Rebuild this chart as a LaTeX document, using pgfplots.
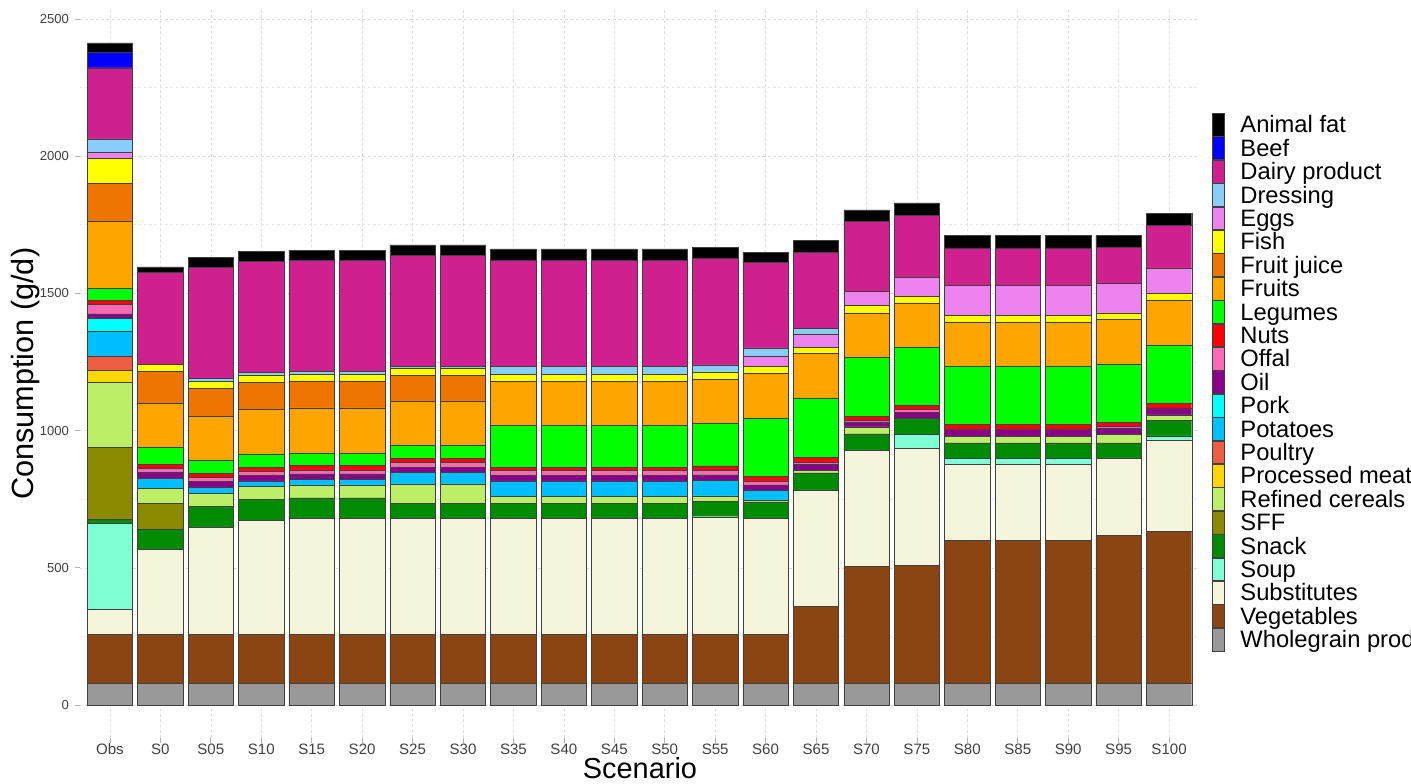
\documentclass[border=0pt]{standalone}
\usepackage{pgfplots}
\pgfplotsset{compat=1.18}
\usepackage{pgfplotstable}
\usepackage{fontspec}
\setmainfont{Liberation Sans}

\definecolor{cWG}{RGB}{153,153,153}
\definecolor{cVeg}{RGB}{139,69,19}
\definecolor{cSub}{RGB}{245,245,220}
\definecolor{cSoup}{RGB}{127,255,212}
\definecolor{cSnack}{RGB}{0,139,0}
\definecolor{cSFF}{RGB}{139,137,0}
\definecolor{cRef}{RGB}{188,238,104}
\definecolor{cProc}{RGB}{255,215,0}
\definecolor{cPoul}{RGB}{238,92,66}
\definecolor{cPot}{RGB}{0,191,255}
\definecolor{cPork}{RGB}{0,255,255}
\definecolor{cOil}{RGB}{139,0,139}
\definecolor{cOffal}{RGB}{255,105,180}
\definecolor{cNuts}{RGB}{255,0,0}
\definecolor{cLeg}{RGB}{0,255,0}
\definecolor{cFru}{RGB}{255,165,0}
\definecolor{cFJ}{RGB}{238,118,0}
\definecolor{cFish}{RGB}{255,255,0}
\definecolor{cEggs}{RGB}{238,130,238}
\definecolor{cDres}{RGB}{135,206,250}
\definecolor{cDairy}{RGB}{208,32,144}
\definecolor{cBeef}{RGB}{0,0,255}
\definecolor{cAF}{RGB}{0,0,0}

\pgfplotstableread{
x  WG Veg Sub Soup Snack SFF Ref Proc Poul Pot Pork Oil Offal Nuts Leg Fru FJ Fish Eggs Dres Dairy Beef AF
0  80 178  91 313 15 261 239 44 51 90 46 17 35 15  43 246 136 92  21 50 259 58 33
1  80 178 309   0 75  93  55  0  0 37  0 20 16 14  61 161 116 25   0  0 337  0 19
2  80 178 390   0 75   0  47  0  0 22  0 24 14 14  48 160 101 27   0  9 406  0 35
3  80 178 416   0 76   0  47  0  0 20  0 20 15 14  49 162  98 28   0  8 406  0 37
4  80 178 422   0 75   0  47  0  0 20  0 20 15 15  47 164  98 24   0 10 406  0 36
5  80 178 422   0 75   0  47  0  0 20  0 20 15 15  47 164  98 24   0 10 406  0 36
6  80 178 422   0 55   0  71  0  0 41  0 19 17 15  47 163  93 26   0  8 404  0 38
7  80 178 422   0 55   0  71  0  0 41  0 19 17 15  47 163  93 26   0  8 404  0 38
8  80 178 422   0 54   0  25  0  0 58  0 20 17 13 151 162   0 26   0 27 388  0 41
9  80 178 422   0 54   0  25  0  0 58  0 20 17 13 151 162   0 26   0 27 388  0 41
10 80 178 422   0 54   0  25  0  0 58  0 20 17 13 151 162   0 26   0 27 388  0 41
11 80 178 422   0 54   0  25  0  0 58  0 20 17 13 151 162   0 26   0 27 388  0 41
12 80 178 426   2 55   0  21  0  0 57  0 20 17 15 154 162   0 27   0 25 390  0 39
13 80 178 422   0 60   0   7  0  0 34  0 21 15 15 213 164   0 24  39 29 311  0 38
14 80 279 423   0 64   0   8  0  0  0  0 22 10 17 214 164   0 23  48 20 278  0 43
15 80 426 423   0 59   0  25  0  0  0  0 19  4 17 215 161   0 26  52  0 254  0 43
16 80 429 425  52 60   0   0  0  0  0  0 21  9 15 214 160   0 25  68  0 226  0 46
17 80 520 277  22 56   0  24  0  0  0  0 26  0 17 212 162   0 24 109  0 137  0 44
18 80 520 277  22 56   0  24  0  0  0  0 26  0 17 212 162   0 24 109  0 137  0 44
19 80 520 277  22 56   0  24  0  0  0  0 26  0 17 212 162   0 24 109  0 137  0 44
20 80 539 280   0 56   0  31  0  0  0  0 24  6 13 213 162   0 25 108  0 132  0 41
21 80 553 333  15 55   0  21  0  0  0  0 26  0 15 214 164   0 23  94  0 154  0 44
}\datatable

\pgfplotsset{
  barseg/.style={fill=#1, draw=black!75, line width=0.35pt,
    legend image code/.code={\draw[##1] (0pt,-8.6pt) rectangle (9pt,8.6pt); \path (21pt,0pt);}},
}

\begin{document}
\begin{tikzpicture}
\useasboundingbox (0,0) rectangle (1058.25pt,587.25pt);
\clip (0,0) rectangle (1058.25pt,587.25pt);
\begin{axis}[
  at={(59.775pt,33.675pt)}, anchor=south west,
  scale only axis, width=839.7pt, height=546.4pt,
  xmin=-0.6, xmax=21.6, ymin=-120.6, ymax=2534,
  ybar stacked, bar width=0.9,
  xtick={0,...,21},
  xticklabels={Obs,S0,S05,S10,S15,S20,S25,S30,S35,S40,S45,S50,S55,S60,S65,S70,S75,S80,S85,S90,S95,S100},
  ytick={0,500,1000,1500,2000,2500},
  yticklabels={0,500,1000,1500,2000,2500},
  minor ytick={250,750,1250,1750,2250},
  xmajorgrids, ymajorgrids, yminorgrids,
  major grid style={gray!28, dash pattern=on 2pt off 2pt, line width=0.4pt},
  minor grid style={gray!20, dash pattern=on 2pt off 2pt, line width=0.4pt},
  axis line style={draw=none},
  tick align=outside, tick pos=left,
  major tick length=3.75pt, minor tick length=0pt,
  tick style={gray!60, line width=0.5pt},
  xticklabel style={font=\fontsize{11.3}{13}\selectfont, text=black!75, anchor=base, yshift=-8.5pt},
  yticklabel style={font=\fontsize{9.8}{11}\selectfont, text=black!75, anchor=east, inner xsep=0pt, xshift=-4.2pt},
  xlabel={Scenario},
  ylabel={Consumption (g/d)},
  every axis x label/.style={at={(axis description cs:0.5004,-0.0552)}, anchor=base, font=\fontsize{21.7}{24}\selectfont},
  every axis y label/.style={at={(axis description cs:-0.0417,0.5)}, rotate=90, anchor=base, font=\fontsize{23}{26}\selectfont},
  reverse legend,
  legend cell align=left,
  legend style={at={(1.0113,0.8581)}, anchor=north west, draw=none, fill=none,
    inner sep=0pt, outer sep=0pt, row sep=0pt, column sep=0pt,
    font=\fontsize{17.8}{20}\selectfont,
    nodes={inner xsep=0pt, inner ysep=0pt, text height=14.8pt, text depth=2.4pt}},
]
\addplot[barseg=cWG]    table[x=x,y=WG]{\datatable};    \addlegendentry{Wholegrain products}
\addplot[barseg=cVeg]   table[x=x,y=Veg]{\datatable};   \addlegendentry{Vegetables}
\addplot[barseg=cSub]   table[x=x,y=Sub]{\datatable};   \addlegendentry{Substitutes}
\addplot[barseg=cSoup]  table[x=x,y=Soup]{\datatable};  \addlegendentry{Soup}
\addplot[barseg=cSnack] table[x=x,y=Snack]{\datatable}; \addlegendentry{Snack}
\addplot[barseg=cSFF]   table[x=x,y=SFF]{\datatable};   \addlegendentry{SFF}
\addplot[barseg=cRef]   table[x=x,y=Ref]{\datatable};   \addlegendentry{Refined cereals}
\addplot[barseg=cProc]  table[x=x,y=Proc]{\datatable};  \addlegendentry{Processed meat}
\addplot[barseg=cPoul]  table[x=x,y=Poul]{\datatable};  \addlegendentry{Poultry}
\addplot[barseg=cPot]   table[x=x,y=Pot]{\datatable};   \addlegendentry{Potatoes}
\addplot[barseg=cPork]  table[x=x,y=Pork]{\datatable};  \addlegendentry{Pork}
\addplot[barseg=cOil]   table[x=x,y=Oil]{\datatable};   \addlegendentry{Oil}
\addplot[barseg=cOffal] table[x=x,y=Offal]{\datatable}; \addlegendentry{Offal}
\addplot[barseg=cNuts]  table[x=x,y=Nuts]{\datatable};  \addlegendentry{Nuts}
\addplot[barseg=cLeg]   table[x=x,y=Leg]{\datatable};   \addlegendentry{Legumes}
\addplot[barseg=cFru]   table[x=x,y=Fru]{\datatable};   \addlegendentry{Fruits}
\addplot[barseg=cFJ]    table[x=x,y=FJ]{\datatable};    \addlegendentry{Fruit juice}
\addplot[barseg=cFish]  table[x=x,y=Fish]{\datatable};  \addlegendentry{Fish}
\addplot[barseg=cEggs]  table[x=x,y=Eggs]{\datatable};  \addlegendentry{Eggs}
\addplot[barseg=cDres]  table[x=x,y=Dres]{\datatable};  \addlegendentry{Dressing}
\addplot[barseg=cDairy] table[x=x,y=Dairy]{\datatable}; \addlegendentry{Dairy product}
\addplot[barseg=cBeef]  table[x=x,y=Beef]{\datatable};  \addlegendentry{Beef}
\addplot[barseg=cAF]    table[x=x,y=AF]{\datatable};    \addlegendentry{Animal fat}
\end{axis}
\end{tikzpicture}
\end{document}
